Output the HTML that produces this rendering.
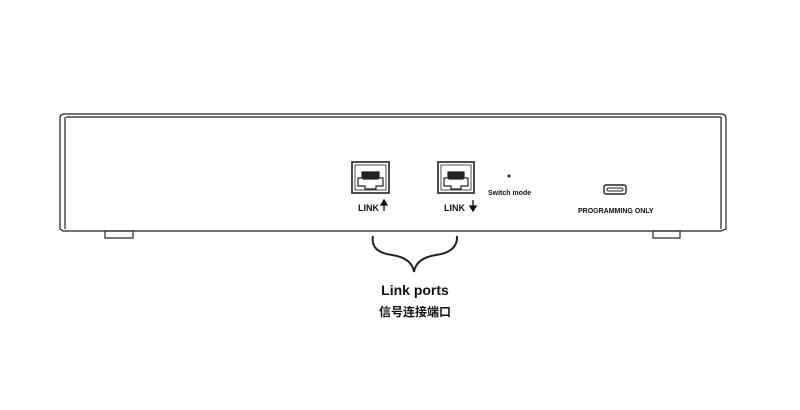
<!DOCTYPE html>
<html><head><meta charset="utf-8"><style>
html,body{margin:0;padding:0;background:#fff;width:800px;height:410px;overflow:hidden}
svg text{font-family:"Liberation Sans","Noto Sans CJK SC",sans-serif;font-weight:bold;fill:#111}
</style></head><body>
<svg width="800" height="410" viewBox="0 0 800 410" xmlns="http://www.w3.org/2000/svg">
<g fill="none" stroke="#222" stroke-width="1.2">
 <!-- case -->
 <path d="M64,114 L721,114 Q726,114 726,119 L726,229 L721,231 L63,231 L60,229 L60,119 Q60,114 64,114 Z"/>
 <line x1="66" y1="117" x2="721" y2="117"/>
 <line x1="65" y1="117" x2="65" y2="229"/>
 <line x1="721" y1="117" x2="721" y2="229"/>
 <rect x="105" y="231" width="28" height="7"/>
 <rect x="653" y="231" width="27" height="7"/>
 <!-- port 1 -->
 <rect x="352" y="162" width="37" height="31" stroke-width="1.6"/>
 <rect x="355" y="165" width="31" height="25" stroke-width="0.8"/>
 <path d="M358,186 L358,178 L362,178 L362,172 L379,172 L379,178 L383,178 L383,186 L376,186 L376,189 L365,189 L365,186 Z"/>
 <rect x="363" y="173" width="15" height="6" fill="#222"/>
 <!-- port 2 -->
 <rect x="438" y="162" width="36" height="31" stroke-width="1.6"/>
 <rect x="441" y="165" width="30" height="25" stroke-width="0.8"/>
 <path d="M444,186 L444,178 L448,178 L448,172 L464,172 L464,178 L468,178 L468,186 L461,186 L461,189 L451,189 L451,186 Z"/>
 <rect x="449" y="173" width="14" height="6" fill="#222"/>
 <!-- usb-c -->
 <rect x="604" y="185" width="22" height="9" rx="2" stroke-width="1.4"/>
 <rect x="607" y="188" width="16" height="3" rx="1.5" stroke-width="0.9"/>
 <!-- brace -->
 <path d="M373,236 Q370,252 392,255 Q412,258 414,272 Q416,258 436,255 Q458,252 457,236" stroke-width="2"/>
</g>
<circle cx="509" cy="176" r="1.5" fill="#222"/>
<text x="358" y="211" font-size="9">LINK</text>
<path d="M384,211 L384,203 M381,205 L384,200 L387,205 Z" stroke="#111" stroke-width="1.3" fill="#111"/>
<text x="444" y="211" font-size="9">LINK</text>
<path d="M473,200 L473,208 M470,206 L473,211 L476,206 Z" stroke="#111" stroke-width="1.3" fill="#111"/>
<text x="488" y="195" font-size="7">Switch mode</text>
<text x="578" y="213" font-size="7">PROGRAMMING ONLY</text>
<text x="415" y="295" font-size="14" text-anchor="middle">Link ports</text>
<text x="415" y="316" font-size="12" text-anchor="middle">信号连接端口</text>
</svg>
</body></html>
